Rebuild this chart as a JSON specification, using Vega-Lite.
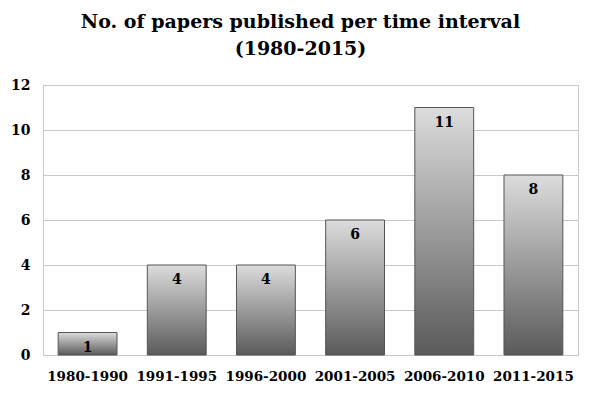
{
  "$schema": "https://vega.github.io/schema/vega-lite/v6.json",
  "width": 600,
  "height": 395,
  "autosize": {"type": "fit", "contains": "padding"},
  "padding": {"left": 10, "right": 22, "top": 13, "bottom": 12},
  "background": "white",
  "title": {
    "text": ["No. of papers published per time interval", "(1980-2015)"],
    "font": "DejaVu Serif",
    "fontSize": 19,
    "fontWeight": "bold",
    "color": "#000000",
    "lineHeight": 27,
    "anchor": "middle",
    "frame": "group",
    "dx": -10,
    "offset": 19
  },
  "data": {
    "values": [
      {"interval": "1980-1990", "papers": 1},
      {"interval": "1991-1995", "papers": 4},
      {"interval": "1996-2000", "papers": 4},
      {"interval": "2001-2005", "papers": 6},
      {"interval": "2006-2010", "papers": 11},
      {"interval": "2011-2015", "papers": 8}
    ]
  },
  "encoding": {
    "x": {
      "field": "interval",
      "type": "nominal",
      "sort": null,
      "scale": {"paddingInner": 0.34, "paddingOuter": 0.17},
      "axis": {
        "title": null,
        "labelAngle": 0,
        "labelFont": "DejaVu Serif",
        "labelFontWeight": "bold",
        "labelFontSize": 13.5,
        "labelColor": "#000000",
        "labelPadding": 14,
        "ticks": false,
        "domain": true,
        "domainColor": "#c8c8c8"
      }
    },
    "y": {
      "field": "papers",
      "type": "quantitative",
      "scale": {"domain": [0, 12]},
      "axis": {
        "title": null,
        "values": [0, 2, 4, 6, 8, 10, 12],
        "labelFont": "DejaVu Serif",
        "labelFontWeight": "bold",
        "labelFontSize": 14,
        "labelColor": "#000000",
        "labelPadding": 13,
        "ticks": false,
        "domain": false,
        "grid": true,
        "gridColor": "#c8c8c8",
        "gridWidth": 1
      }
    }
  },
  "layer": [
    {
      "mark": {
        "type": "bar",
        "stroke": "#555555",
        "strokeWidth": 1,
        "color": {
          "gradient": "linear",
          "x1": 0, "y1": 0, "x2": 0, "y2": 1,
          "stops": [
            {"offset": 0, "color": "#dcdcdc"},
            {"offset": 1, "color": "#5a5a5a"}
          ]
        }
      }
    },
    {
      "mark": {
        "type": "text",
        "baseline": "top",
        "dy": 8,
        "font": "DejaVu Serif",
        "fontWeight": "bold",
        "fontSize": 14,
        "color": "#000000"
      },
      "encoding": {"text": {"field": "papers", "type": "quantitative"}}
    }
  ],
  "config": {
    "view": {"stroke": "#c8c8c8", "strokeWidth": 1}
  }
}
